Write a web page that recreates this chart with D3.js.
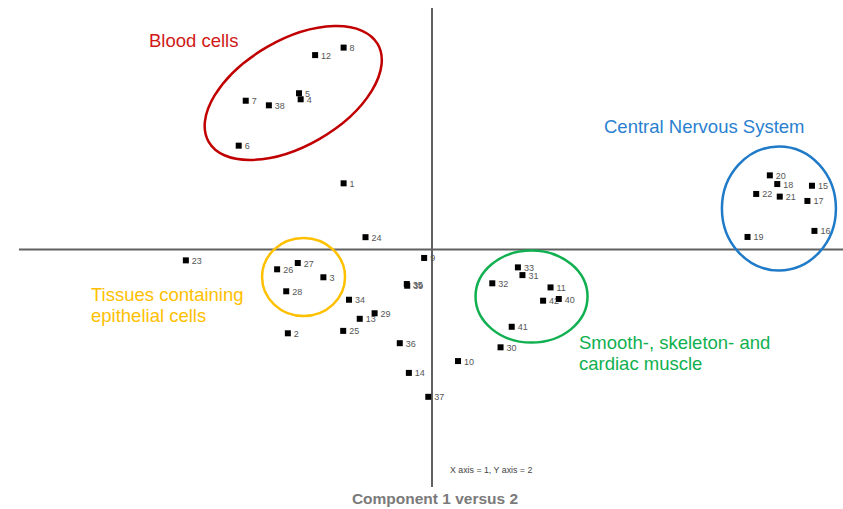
<!DOCTYPE html>
<html>
<head>
<meta charset="utf-8">
<script src="https://cdn.jsdelivr.net/npm/d3@7"></script>
<style>
  body { margin: 0; background: #fff; }
  text { font-family: "Liberation Sans", Arial, sans-serif; }
</style>
</head>
<body>
<div id="plot"></div>
<script>
// sample ids and their scores on component 1 and 2
var ids = ["1","2","3","4","5","6","7","8","9","10","11","12","13","14","15","16","17","18","19","20","21",
           "22","23","24","25","26","27","28","29","30","31","32","33","34","35","36","37","38","39","40","41","42"];
var comp1 = [-0.214,-0.349,-0.263,-0.318,-0.322,-0.468,-0.451,-0.214,-0.019,0.063,0.287,-0.283,-0.175,-0.056,
             0.920,0.926,0.909,0.836,0.764,0.818,0.842,0.785,-0.596,-0.161,-0.215,-0.375,-0.325,-0.353,-0.139,
             0.166,0.219,0.146,0.208,-0.201,-0.061,-0.078,-0.009,-0.395,-0.060,0.307,0.193,0.269];
var comp2 = [0.274,-0.347,-0.115,0.622,0.647,0.430,0.616,0.836,-0.035,-0.462,-0.157,0.805,-0.287,-0.511,
             0.264,0.077,0.201,0.271,0.052,0.307,0.219,0.230,-0.045,0.051,-0.337,-0.082,-0.056,-0.173,-0.264,
             -0.405,-0.106,-0.140,-0.074,-0.208,-0.143,-0.388,-0.610,0.597,-0.150,-0.205,-0.320,-0.212];

// tissue groups (label lines) and the centre of each group in component units
var groupNames = [["Blood cells"], ["Central Nervous System"], ["Tissues containing", "epithelial cells"],
                  ["Smooth-, skeleton- and", "cardiac muscle"]];
var groupC1 = [-0.336, 0.840, -0.311, 0.241];
var groupC2 = [0.648, 0.170, -0.114, -0.195];

var chartTitle = "Component 1 versus 2";
var axisNote = "X axis = 1, Y axis = 2";

// look of the group annotations
var groupStyle = [
    {stroke: "#c00000", text: "#d01818", rx: 97.6, ry: 52.9, rot: -30, tx: 149, ty: 47},
    {stroke: "#1f7ac8", text: "#2a7fd0", rx: 57, ry: 62, rot: 0, tx: 604, ty: 133},
    {stroke: "#ffc000", text: "#ffc000", rx: 41.5, ry: 39, rot: 0, tx: 91, ty: 301},
    {stroke: "#10b050", text: "#10b050", rx: 56, ry: 46, rot: 0, tx: 579, ty: 349}
];

var width = 843;
var height = 509;

var svg = d3.select("#plot")
    .append("svg")
    .attr("width", width)
    .attr("height", height);

// scales: origin of the plot sits at (432, 249.5)
var x = d3.scaleLinear()
    .domain([-1, 1])
    .range([19, 845]);

var y = d3.scaleLinear()
    .domain([-1, 1])
    .range([491, 8]);

// axes through the origin
svg.append("line")
    .attr("x1", x(-1)).attr("x2", x(1))
    .attr("y1", y(0)).attr("y2", y(0))
    .style("stroke", "#606060")
    .style("stroke-width", 2);

svg.append("line")
    .attr("x1", x(0)).attr("x2", x(0))
    .attr("y1", y(1)).attr("y2", y(-0.983))
    .style("stroke", "#606060")
    .style("stroke-width", 2);

var points = ids.map(function(id, i) {
    return {id: id, c1: comp1[i], c2: comp2[i]};
});

// point labels first, squares drawn on top
svg.append("g")
    .selectAll("text")
    .data(points)
    .enter()
    .append("text")
    .attr("x", function(d) { return x(d.c1) + 6; })
    .attr("y", function(d) { return y(d.c2) + 3.5; })
    .attr("font-size", 9)
    .attr("fill", "#555")
    .text(function(d) { return d.id; });

svg.append("g")
    .selectAll("rect")
    .data(points)
    .enter()
    .append("rect")
    .attr("x", function(d) { return x(d.c1) - 3; })
    .attr("y", function(d) { return y(d.c2) - 3; })
    .attr("width", 6)
    .attr("height", 6)
    .attr("fill", "#000");

// group ellipses and their labels
var groups = groupNames.map(function(n, i) {
    return {lines: n, c1: groupC1[i], c2: groupC2[i], s: groupStyle[i]};
});

svg.append("g")
    .selectAll("ellipse")
    .data(groups)
    .enter()
    .append("ellipse")
    .attr("transform", function(d) {
        return "translate(" + x(d.c1) + "," + y(d.c2) + ") rotate(" + d.s.rot + ")";
    })
    .attr("rx", function(d) { return d.s.rx; })
    .attr("ry", function(d) { return d.s.ry; })
    .attr("fill", "none")
    .attr("stroke", function(d) { return d.s.stroke; })
    .attr("stroke-width", 2.5);

var labels = svg.append("g")
    .selectAll("text")
    .data(groups)
    .enter()
    .append("text")
    .attr("font-size", 18.5)
    .attr("fill", function(d) { return d.s.text; });

labels.selectAll("tspan")
    .data(function(d) { return d.lines.map(function(l) { return {l: l, s: d.s}; }); })
    .enter()
    .append("tspan")
    .attr("x", function(d) { return d.s.tx; })
    .attr("y", function(d, i) { return d.s.ty + i * 20.5; })
    .text(function(d) { return d.l; });

// small note and title
svg.append("text")
    .attr("x", 450)
    .attr("y", 473)
    .attr("font-size", 8.8)
    .attr("fill", "#444")
    .text(axisNote);

svg.append("text")
    .attr("x", 435)
    .attr("y", 504)
    .attr("text-anchor", "middle")
    .attr("font-size", 15.5)
    .attr("font-weight", "bold")
    .attr("fill", "#7a7a7a")
    .text(chartTitle);
</script>
</body>
</html>
